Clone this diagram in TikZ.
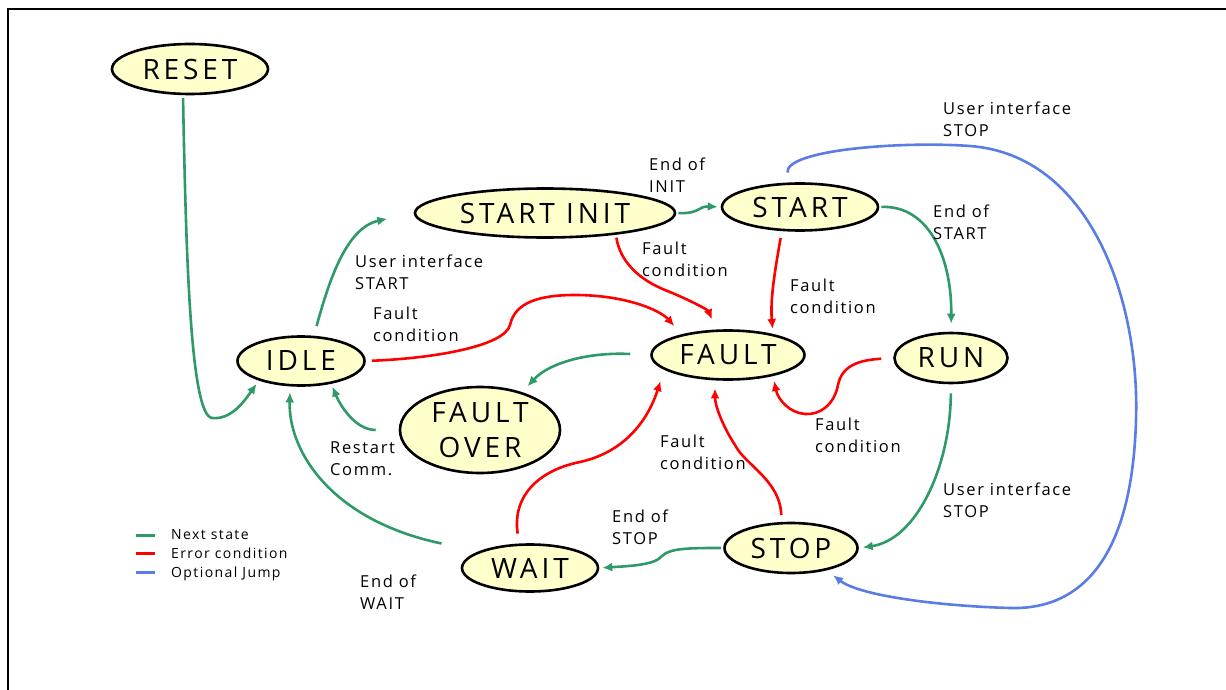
\documentclass[tikz,border=0pt]{standalone}
\usepackage{fontspec}
\usetikzlibrary{arrows.meta,shapes.geometric}
\newfontfamily\statefont[LetterSpace=14]{Open Sans}
\newfontfamily\lblfont[LetterSpace=10]{Open Sans}
\definecolor{gr}{RGB}{46,154,104}
\definecolor{rd}{RGB}{255,0,0}
\definecolor{bl}{RGB}{90,125,228}
\definecolor{fillc}{RGB}{255,255,204}
\begin{document}
\begin{tikzpicture}[x=1pt,y=-1pt,
  state/.style={ellipse, draw=black, line width=2.6pt, fill=fillc, inner sep=-30pt,
    font=\statefont\fontsize{28}{37}\selectfont, align=center},
  conn/.style={line width=2.6pt, -{Latex[length=10pt,width=9pt]}, shorten <=2pt, shorten >=3pt},
  gline/.style={conn, draw=gr, -{Latex[length=10pt,width=9pt,fill=gr]}},
  rline/.style={conn, draw=rd, -{Latex[length=10pt,width=9pt,fill=rd]}},
  bline/.style={conn, draw=bl, -{Latex[length=10pt,width=9pt,fill=bl]}},
  lbl/.style={font=\lblfont\fontsize{16.5}{22}\selectfont, align=left, anchor=base west, inner sep=0pt},
  legtxt/.style={font=\lblfont\fontsize{14}{19}\selectfont, anchor=base west, inner sep=0pt},
  legline/.style={line width=3pt}
]
\useasboundingbox (0,0) rectangle (1226,690);
% frame
\draw[line width=2pt] (8,690) -- (8,9) -- (1226,9);

% states
\node[state, minimum width=156pt, minimum height=50pt] (RESET) at (190,69) {RESET};
\node[state, minimum width=260pt, minimum height=49pt] (SINIT) at (545,213) {START INIT};
\node[state, minimum width=156pt, minimum height=47pt] (START) at (800,207) {START};
\node[state, minimum width=127pt, minimum height=49pt] (IDLE) at (301,361) {IDLE};
\node[state, minimum width=160pt, minimum height=86pt] (FOVER) at (480,430) {FAULT\\[-2pt]OVER};
\node[state, minimum width=153pt, minimum height=49pt] (FAULT) at (728,355) {FAULT};
\node[state, minimum width=113pt, minimum height=50pt] (RUN) at (951,358) {RUN};
\node[state, minimum width=133pt, minimum height=50pt] (STOP) at (791,548) {STOP};
\node[state, minimum width=136pt, minimum height=47pt] (WAIT) at (530,568) {WAIT};

% green: next state
\draw[gline, shorten <=3pt, shorten >=4pt] (RESET.255) .. controls (186,250) and (190,415) .. (212,418)
   .. controls (232,420) and (245,400) .. (IDLE.205);
\draw[gline, shorten <=10pt, shorten >=27pt] (IDLE.63) .. controls (328,285) and (345,228) .. (SINIT.west);
\draw[gline] (SINIT.east) .. controls (700,214) and (698,206) .. (START.west);
\draw[gline, shorten >=8pt] (START.east) .. controls (930,205) and (952,260) .. (RUN.north);
\draw[gline, shorten <=9pt, shorten >=4pt] (RUN.south) .. controls (950,470) and (915,540) .. (STOP.east);
\draw[gline] (STOP.west) .. controls (690,548) and (670,548) .. (662,556)
   .. controls (655,565) and (630,566) .. (WAIT.east);
\draw[gline, shorten <=38pt, shorten >=6pt] (WAIT.162) .. controls (330,520) and (288,450) .. (IDLE.247);
\draw[gline, shorten <=20pt, shorten >=8pt] (FAULT.west) .. controls (590,352) and (550,362) .. (FOVER.42);
\draw[gline, shorten <=23pt, shorten >=3pt] (FOVER.west) .. controls (355,430) and (340,405) .. (IDLE.323);

% red: error condition
\draw[rline, shorten <=6pt, shorten >=11pt] (IDLE.east) .. controls (440,358) and (505,345) .. (510,325)
   .. controls (515,302) and (540,295) .. (575,295)
   .. controls (625,295) and (660,310) .. (FAULT.156);
\draw[rline, shorten <=3pt, shorten >=11pt] (SINIT.343) .. controls (620,262) and (640,280) .. (665,290)
   .. controls (690,300) and (708,310) .. (FAULT.115);
\draw[rline, shorten <=7pt, shorten >=5pt] (START.233) .. controls (775,270) and (770,300) .. (FAULT.25);
\draw[rline, shorten <=12pt, shorten >=5pt] (RUN.west) .. controls (860,360) and (842,365) .. (838,385)
   .. controls (834,405) and (820,415) .. (805,414)
   .. controls (790,413) and (778,400) .. (FAULT.335);
\draw[rline, shorten <=7pt, shorten >=8pt] (STOP.110) .. controls (780,480) and (745,465) .. (735,445)
   .. controls (722,425) and (715,405) .. (FAULT.243);
\draw[rline, shorten <=10pt, shorten >=12pt] (WAIT.114) .. controls (512,495) and (540,470) .. (580,462)
   .. controls (625,452) and (648,420) .. (FAULT.193);

% blue: optional jump
\draw[bline, shorten <=10pt, shorten >=8pt] (START.115) .. controls (785,150) and (900,141) .. (970,146)
   .. controls (1090,155) and (1140,300) .. (1136,420)
   .. controls (1132,560) and (1080,610) .. (1010,608)
   .. controls (940,606) and (860,596) .. (STOP.328);

% labels (anchor = baseline of the last line)
\node[lbl] (l1) at (649,192) {End of\\INIT};
\node[lbl] (l2) at (355,289) {User interface\\START};
\node[lbl] (l3) at (373,341) {Fault\\condition};
\node[lbl] (l4) at (642,276) {Fault\\condition};
\node[lbl] (l5) at (790,313) {Fault\\condition};
\node[lbl] (l6) at (933,239) {End of\\START};
\node[lbl] (l7) at (943,137) {User interface\\STOP};
\node[lbl] (l8) at (815,452) {Fault\\condition};
\node[lbl] (l9) at (660,469) {Fault\\condition};
\node[lbl] (l10) at (330,475) {Restart\\Comm.};
\node[lbl] (l11) at (943,517) {User interface\\STOP};
\node[lbl] (l12) at (612,544) {End of\\STOP};
\node[lbl] (l13) at (360,609) {End of\\WAIT};

% legend
\draw[legline, gr] (136,535) -- (155,535);
\draw[legline, rd] (136,553) -- (155,553);
\draw[legline, bl] (136,572) -- (155,572);
\node[legtxt] (lg1) at (171,539) {Next state};
\node[legtxt] (lg2) at (171,558) {Error condition};
\node[legtxt] (lg3) at (171,577) {Optional Jump};
\end{tikzpicture}
\end{document}
